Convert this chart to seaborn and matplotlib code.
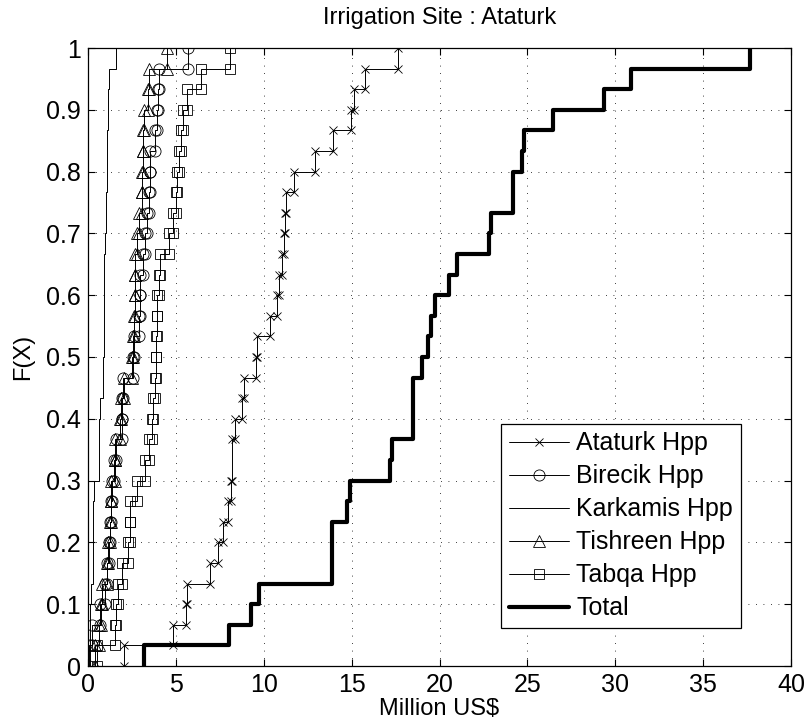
import numpy as np
import matplotlib.pyplot as plt
import seaborn as sns

# sorted samples (30 draws each, million US$)
ataturk = [2.07, 4.86, 5.60, 5.66, 6.93, 7.38, 7.66, 7.98, 8.16, 8.22,
           8.22, 8.38, 8.75, 8.86, 9.56, 9.64, 10.38, 10.74, 10.88, 11.03,
           11.13, 11.22, 11.28, 11.74, 12.92, 13.96, 14.95, 15.12, 15.75, 17.62]
birecik = [0.05, 0.23, 0.70, 0.97, 1.06, 1.21, 1.25, 1.33, 1.38, 1.48,
           1.60, 1.92, 1.96, 2.00, 2.54, 2.60, 2.92, 2.96, 2.98, 3.11,
           3.24, 3.34, 3.45, 3.50, 3.53, 3.80, 3.90, 4.00, 4.06, 5.67]
karkamis = [0.10, 0.12, 0.14, 0.16, 0.28, 0.29, 0.30, 0.31, 0.32, 0.62,
            0.63, 0.64, 0.66, 0.86, 0.87, 0.90, 0.91, 0.92, 0.93, 0.93,
            0.94, 1.00, 1.02, 1.08, 1.09, 1.10, 1.11, 1.16, 1.17, 1.57]
tishreen = [0.40, 0.60, 0.72, 0.80, 1.06, 1.15, 1.28, 1.30, 1.32, 1.52,
            1.56, 1.82, 1.90, 2.02, 2.50, 2.58, 2.62, 2.66, 2.68, 2.70,
            2.80, 2.88, 3.05, 3.10, 3.12, 3.14, 3.16, 3.40, 3.45, 4.50]
tabqa = [0.50, 1.55, 1.60, 1.70, 1.95, 2.30, 2.38, 2.40, 2.81, 3.22,
         3.45, 3.62, 3.70, 3.82, 3.87, 3.89, 3.91, 3.95, 4.02, 4.08,
         4.63, 4.86, 5.00, 5.08, 5.15, 5.28, 5.40, 5.62, 6.43, 8.08]
total = [3.20, 8.00, 9.26, 9.73, 13.87, 13.87, 13.87, 14.76, 14.90, 17.20,
         17.30, 18.52, 18.52, 18.52, 18.99, 19.37, 19.50, 19.75, 20.56, 20.98,
         22.84, 22.92, 24.20, 24.20, 24.68, 24.78, 26.48, 29.37, 30.90, 37.64]

labels = ['Ataturk Hpp', 'Birecik Hpp', 'Karkamis Hpp', 'Tishreen Hpp', 'Tabqa Hpp', 'Total']
xticks = np.arange(0, 41, 5)
yticks = np.round(np.arange(0, 1.01, 0.1), 1)
yticklabels = ['0', '0.1', '0.2', '0.3', '0.4', '0.5', '0.6', '0.7', '0.8', '0.9', '1']

sns.set_theme(style='ticks')
plt.rcParams['font.family'] = ['Liberation Sans', 'DejaVu Sans']
plt.rcParams.update({
    'xtick.direction': 'in', 'ytick.direction': 'in',
    'xtick.top': True, 'ytick.right': True,
    'xtick.major.size': 5, 'ytick.major.size': 5,
    'xtick.major.width': 0.8, 'ytick.major.width': 0.8,
    'axes.linewidth': 0.9, 'axes.edgecolor': 'black',
    'text.color': 'black', 'axes.labelcolor': 'black',
    'xtick.color': 'black', 'ytick.color': 'black',
})


def stairs(vals):
    """empirical cdf as a staircase, vertex at both ends of each jump"""
    v, cnt = np.unique(vals, return_counts=True)
    F = np.cumsum(cnt) / len(vals)
    F0 = np.r_[0, F[:-1]]
    return np.repeat(v, 2), np.column_stack([F0, F]).ravel()


fig = plt.figure(figsize=(8.05, 7.26), dpi=100)
ax = fig.add_axes([88 / 805, 60 / 726, 703 / 805, 618 / 726])

styles = [
    dict(marker='x', ms=6),
    dict(marker='o', ms=8),
    dict(marker=None),
    dict(marker='^', ms=8),
    dict(marker='s', ms=7),
]
for vals, name, st in zip([ataturk, birecik, karkamis, tishreen, tabqa], labels[:5], styles):
    x, y = stairs(vals)
    sns.lineplot(x=x, y=y, sort=False, estimator=None, ax=ax, color='black', lw=0.7,
                 mfc='none', mec='black', mew=0.6, label=name, **st)

x, y = stairs(total)
sns.lineplot(x=x, y=y, sort=False, estimator=None, ax=ax, color='black', lw=3,
             label=labels[5])

ax.set_xlim(0, 40)
ax.set_ylim(0, 1)
ax.set_xticks(xticks)
ax.set_yticks(yticks)
ax.set_yticklabels(yticklabels)
ax.tick_params(labelsize=18, pad=5, colors='black')
ax.grid(True, color='black', linestyle=(0, (1, 8)), linewidth=0.6)
for s in ax.spines.values():
    s.set_visible(True)

ax.set_title('Irrigation Site : Ataturk', fontsize=17, pad=17)
ax.set_xlabel('Million US$', fontsize=17, labelpad=1)
ax.set_ylabel('F(X)', fontsize=17, labelpad=9)

leg = ax.legend(loc='lower left', bbox_to_anchor=(0.588, 0.0615), borderaxespad=0,
                fontsize=18, frameon=True, fancybox=False, framealpha=1,
                edgecolor='black', handlelength=2.4, handletextpad=0.3,
                labelspacing=0.36, borderpad=0.3)
leg.get_frame().set_linewidth(0.9)

fig.savefig('out.png', dpi=100)
